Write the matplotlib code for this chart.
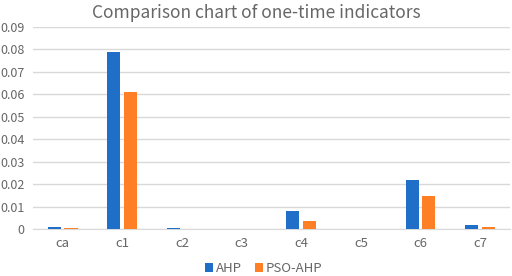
import numpy as np
import matplotlib
matplotlib.use('Agg')
import matplotlib.pyplot as plt

plt.rcParams['font.family'] = ['Noto Sans CJK SC', 'DejaVu Sans']

# Data
categories = ['ca', 'c1', 'c2', 'c3', 'c4', 'c5', 'c6', 'c7']
ahp = [0.001, 0.079, 0.0006, 0.0, 0.0079, 0.0, 0.0219, 0.0016]
pso_ahp = [0.0007, 0.061, 0.0, 0.0, 0.0038, 0.0, 0.0149, 0.0008]

blue = '#1F6FC8'
orange = '#FF7F27'
grey_text = '#666666'
grid_col = '#D9D9D9'

fig = plt.figure(figsize=(5.12, 2.76), dpi=100)
ax = fig.add_axes([0.064, 0.170, 0.932, 0.732])

x = np.arange(len(categories))
w = 0.22
ax.bar(x - 0.14, ahp, w, color=blue, label='AHP', zorder=3)
ax.bar(x + 0.14, pso_ahp, w, color=orange, label='PSO-AHP', zorder=3)

ax.set_xlim(-0.5, len(categories) - 0.5)
ax.set_ylim(0, 0.09)
ax.set_yticks(np.arange(0, 0.091, 0.01))
ax.set_yticklabels(['0'] + ['%.2f' % v for v in np.arange(0.01, 0.091, 0.01)])
ax.set_xticks(x)
ax.set_xticklabels(categories)

ax.grid(axis='y', color=grid_col, linewidth=1, zorder=0)
for s in ['top', 'right', 'left']:
    ax.spines[s].set_visible(False)
ax.spines['bottom'].set_color(grid_col)
ax.tick_params(axis='both', length=0, colors=grey_text, labelsize=9)
ax.tick_params(axis='x', pad=6, labelsize=9.5)
ax.tick_params(axis='y', pad=6)

fig.suptitle('Comparison chart of one-time indicators', color=grey_text,
             fontsize=12.5, y=0.985)

fig.legend(loc='lower center', bbox_to_anchor=(0.515, -0.04), ncol=2,
           frameon=False, fontsize=9.5, labelcolor=grey_text,
           handlelength=0.6, handleheight=0.6, handletextpad=0.2,
           columnspacing=1.0)

fig.savefig('out.png', dpi=100)
